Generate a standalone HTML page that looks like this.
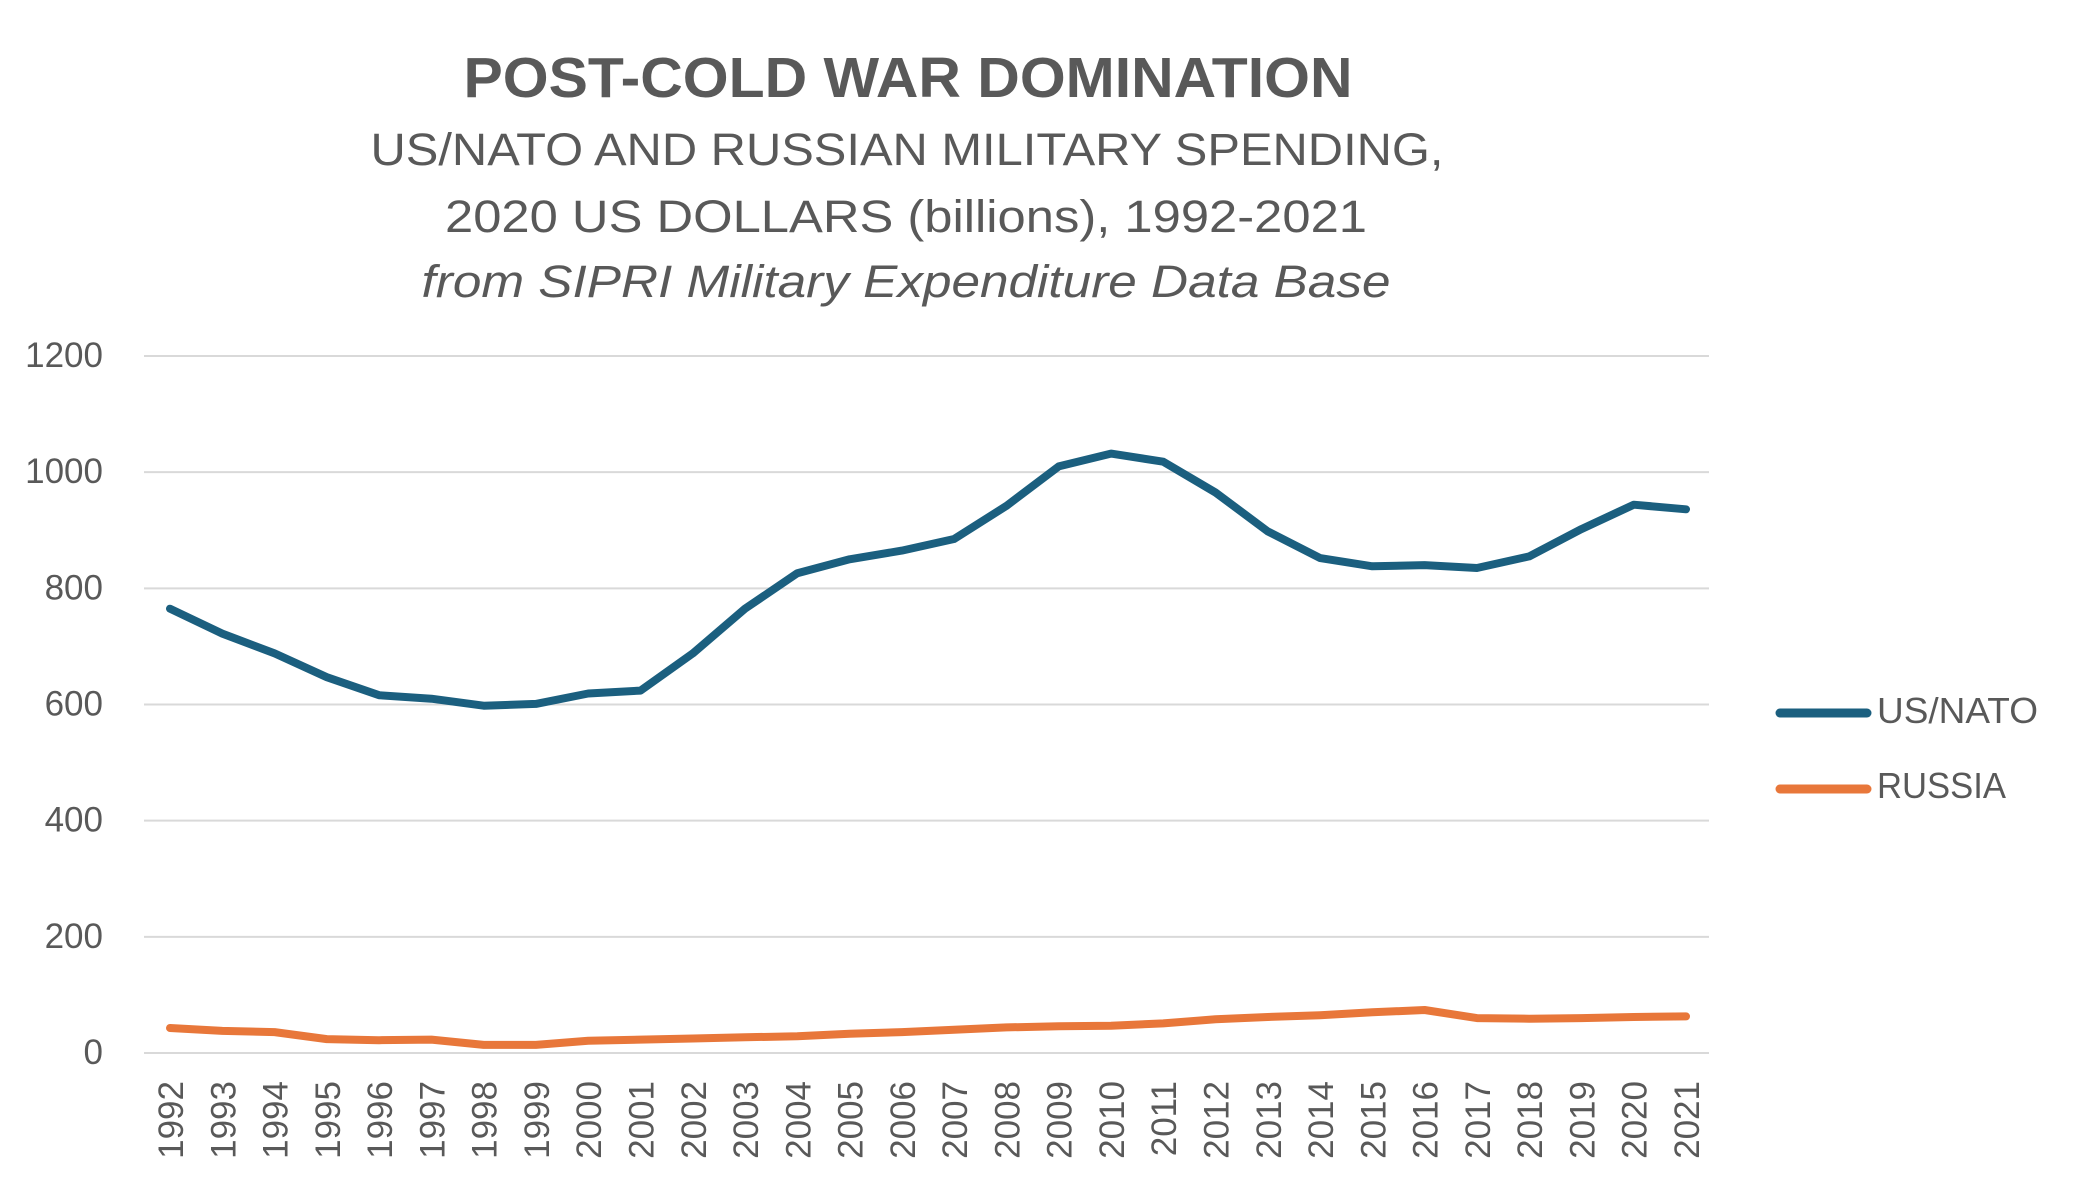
<!DOCTYPE html>
<html><head><meta charset="utf-8"><style>
html,body{margin:0;padding:0;background:#fff;}
svg{display:block;font-family:"Liberation Sans",sans-serif;}
</style></head><body>
<svg id="chart" width="2078" height="1188" viewBox="0 0 2078 1188">
<g fill="#595959" text-anchor="middle">
<text x="908" y="97" font-size="57" font-weight="bold" textLength="889" lengthAdjust="spacingAndGlyphs">POST-COLD WAR DOMINATION</text>
<text x="907" y="165" font-size="45" textLength="1073" lengthAdjust="spacingAndGlyphs">US/NATO AND RUSSIAN MILITARY SPENDING,</text>
<text x="906" y="232" font-size="45" textLength="922" lengthAdjust="spacingAndGlyphs">2020 US DOLLARS (billions), 1992-2021</text>
<text x="906" y="297" font-size="45" font-style="italic" textLength="969" lengthAdjust="spacingAndGlyphs">from SIPRI Military Expenditure Data Base</text>
</g>
<g id="grid"></g><g id="ylab"></g><g id="xlab"></g><g id="lines"></g>
<g>
<line x1="1780" y1="713" x2="1867" y2="713" stroke="#1b5f7f" stroke-width="9" stroke-linecap="round"/>
<text x="1877" y="723" font-size="36" fill="#595959" textLength="161" lengthAdjust="spacingAndGlyphs">US/NATO</text>
<line x1="1780" y1="789" x2="1867" y2="789" stroke="#e8773a" stroke-width="9" stroke-linecap="round"/>
<text x="1877" y="798" font-size="36" fill="#595959" textLength="129" lengthAdjust="spacingAndGlyphs">RUSSIA</text>
</g>
</svg>
<script>
const years=[1992,1993,1994,1995,1996,1997,1998,1999,2000,2001,2002,2003,2004,2005,2006,2007,2008,2009,2010,2011,2012,2013,2014,2015,2016,2017,2018,2019,2020,2021];
const natoValues=[765,722,688,647,616,610,598,601,619,624,688,765,826,850,865,885,942,1010,1032,1018,965,898,852,838,840,835,855,902,944,936];
const russiaValues=[43,38,36,24,22,23,14,14,21,23,25,27,29,33,36,40,44,46,47,51,58,62,65,70,74,60,59,60,62,63];
const yTicks=[0,200,400,600,800,1000,1200];
const NS='http://www.w3.org/2000/svg';
const X0=144,X1=1709,Y0=1053,Y1=356,YMAX=1200;
const XA=170,XB=1686;
function xs(i){return XA+(XB-XA)*i/(years.length-1);}
function ys(v){return Y0-(v/YMAX)*(Y0-Y1);}
function mk(tag,attrs,parent){const e=document.createElementNS(NS,tag);for(const k in attrs)e.setAttribute(k,attrs[k]);parent.appendChild(e);return e;}
const grid=document.getElementById('grid'),ylab=document.getElementById('ylab'),xlab=document.getElementById('xlab'),lines=document.getElementById('lines');
yTicks.forEach(t=>{
 const l=mk('line',{x1:X0,x2:X1,y1:ys(t),y2:ys(t),stroke:'#d9d9d9','stroke-width':2},grid);
 
 
 const tx=mk('text',{x:103,y:ys(t)+11,'font-size':35,fill:'#595959','text-anchor':'end'},ylab);
 tx.textContent=t;
 
 
});
years.forEach((yr,i)=>{
 const x=xs(i)+13;
 const tx=mk('text',{x:x,y:1081,'font-size':35,fill:'#595959','text-anchor':'end',transform:'rotate(-90 '+x+' 1081)'},xlab);
 tx.textContent=yr;
 
 
});
function series(vals,color,name){
 const d=vals.map((v,i)=>(i?'L':'M')+xs(i).toFixed(1)+' '+ys(v).toFixed(1)).join(' ');
 const p=mk('path',{d:d,fill:'none',stroke:color,'stroke-width':8,'stroke-linejoin':'round','stroke-linecap':'round'},lines);
 
 
}
series(natoValues,'#1b5f7f','us-nato-line');
series(russiaValues,'#e8773a','russia-line');
</script>
</body></html>
